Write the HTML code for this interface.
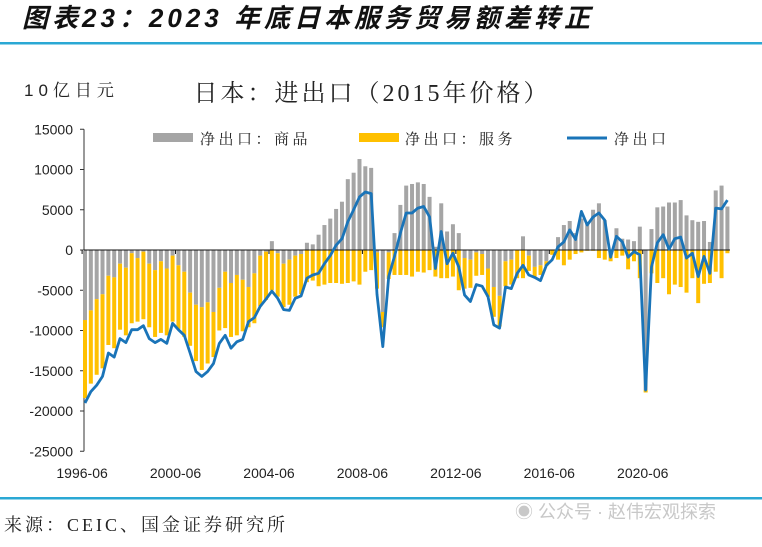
<!DOCTYPE html>
<html><head><meta charset="utf-8">
<style>
html,body{margin:0;padding:0;background:#fff;}
body{width:762px;height:542px;overflow:hidden;position:relative;font-family:"Liberation Sans","Noto Sans CJK SC",sans-serif;}
</style></head>
<body>
<svg width="762" height="542" viewBox="0 0 762 542" xmlns="http://www.w3.org/2000/svg">
<text x="22" y="27" font-size="26" font-weight="bold" font-style="italic" letter-spacing="4" fill="#111" font-family="'Liberation Sans','Noto Sans CJK SC',sans-serif">图表23：2023 年底日本服务贸易额差转正</text>
<rect x="0" y="42" width="762" height="2.5" fill="#2aa8d4"/>
<text x="24" y="96" font-size="17" letter-spacing="5" fill="#222" font-family="'Liberation Sans','Noto Serif CJK SC',serif">10亿日元</text>
<text x="372" y="101" font-size="24" letter-spacing="3" text-anchor="middle" fill="#222" font-family="'Liberation Serif','Noto Serif CJK SC',serif">日本：进出口（2015年价格）</text>
<g id="legend">
<rect x="153" y="133" width="40" height="9" fill="#a5a5a5"/>
<text x="200" y="144" font-size="15" letter-spacing="3.5" fill="#222" font-family="'Liberation Serif','Noto Serif CJK SC',serif">净出口：商品</text>
<rect x="359" y="133" width="40" height="9" fill="#ffc000"/>
<text x="405" y="144" font-size="15" letter-spacing="3.5" fill="#222" font-family="'Liberation Serif','Noto Serif CJK SC',serif">净出口：服务</text>
<line x1="567" y1="138" x2="607" y2="138" stroke="#1a74b8" stroke-width="3"/>
<text x="614" y="144" font-size="15" letter-spacing="3.5" fill="#222" font-family="'Liberation Serif','Noto Serif CJK SC',serif">净出口</text>
</g>
<g id="plot"></g>
<rect x="0" y="497" width="762" height="2.5" fill="#2aa8d4"/>
<text x="4" y="531" font-size="18" letter-spacing="3" fill="#222" font-family="'Liberation Serif','Noto Serif CJK SC',serif">来源：CEIC、国金证券研究所</text>
<text x="515" y="518" font-size="18" fill="#c8c8c8">◉ 公众号 · 赵伟宏观探索</text>
</svg>
<script>
const goods=[-8.7,-7.5,-6.1,-5.5,-3.2,-3.4,-1.7,-2.2,-0.4,-1.0,-0.2,-1.7,-2.5,-1.4,-2.3,-0.7,-1.9,-2.7,-5.3,-6.8,-7.1,-6.5,-7.7,
-4.7,-2.7,-4.1,-3.1,-3.7,-4.6,-2.9,-0.7,-0.2,1.1,-0.4,-1.7,-1.2,-0.7,-0.5,0.9,0.7,1.9,3.1,3.9,5.1,6.0,
8.8,9.6,11.3,10.4,10.2,-0.3,-7.7,-0.3,2.1,5.6,8.0,8.2,8.4,8.2,6.6,0.4,5.8,2.3,3.2,2.1,-1.0,-1.2,
-0.3,-0.5,-2.3,-4.6,-5.7,-1.4,-1.2,0,1.7,-0.7,-2.1,-1.9,-1.4,0,1.6,3.1,3.6,2.1,3.9,3.4,5.0,5.8,
3.7,-0.2,2.7,1.4,1.3,1.1,2.9,-17.4,2.6,5.3,5.4,5.9,5.9,6.2,4.3,3.7,3.5,3.6,1.0,7.4,8.0,5.4];
const services=[-9.7,-9.1,-9.4,-9.2,-8.6,-8.8,-8.2,-8.4,-8.7,-7.9,-8.4,-7.9,-8.3,-8.9,-8.3,-8.2,-7.9,-8.1,-6.6,-7.0,-7.8,-7.6,-5.6,
-5.3,-7.0,-6.7,-7.5,-6.4,-5.0,-6.2,-6.3,-6.0,-5.0,-5.4,-5.4,-5.6,-5.1,-5.0,-4.0,-3.8,-4.5,-4.3,-4.1,-4.1,-4.2,
-4.1,-3.9,-4.3,-2.7,-2.5,-4.5,-1.9,-3.3,-3.1,-3.1,-3.1,-3.3,-2.7,-2.8,-2.5,-3.3,-3.5,-3.5,-3.3,-5.0,-3.8,-3.5,
-2.9,-2.6,-3.5,-3.7,-3.8,-3.1,-3.1,-3.5,-3.5,-1.9,-1.2,-1.2,-0.6,-0.6,-1.2,-1.9,-1.2,-0.5,-0.3,-0.1,-0.1,-1.0,
-1.2,-1.2,-1.0,-0.7,-2.4,-1.4,-3.5,-0.3,-2.9,-4.1,-3.5,-5.5,-4.3,-4.6,-5.3,-3.5,-6.6,-4.2,-4.1,-2.7,-3.5,-0.4];
const net=[-19.0,-17.6,-16.8,-15.7,-12.8,-13.3,-11.0,-11.5,-9.9,-9.9,-9.4,-11.0,-11.5,-11.1,-11.6,-9.1,-9.9,-10.6,-12.8,-15.1,-15.7,-15.1,-14.1,
-11.6,-10.6,-12.2,-11.4,-11.1,-8.9,-8.4,-7.0,-6.1,-5.1,-6.0,-7.4,-7.5,-6.0,-5.7,-3.5,-3.1,-2.9,-1.7,-0.7,0.6,1.4,
3.5,5.0,6.6,7.2,7.0,-5.5,-12.0,-3.3,-0.8,2.1,4.6,4.6,5.2,5.4,4.1,-2.3,2.3,-1.7,-0.4,-2.1,-5.6,-6.4,
-4.3,-4.5,-5.8,-9.3,-9.7,-4.6,-4.8,-2.9,-1.9,-3.1,-3.4,-3.8,-1.9,-1.2,0.4,1.0,2.5,1.3,4.8,3.1,4.1,4.6,
3.7,-0.9,1.7,1.0,-0.9,-0.2,-0.6,-17.4,-2.1,0.9,1.9,0.1,1.4,1.6,-1.0,-0.4,-3.3,-0.8,-2.9,5.2,5.1,6.2];
const yTicks=[15000,10000,5000,0,-5000,-10000,-15000,-20000,-25000];
const xTickLabels=["1996-06","2000-06","2004-06","2008-06","2012-06","2016-06","2020-06"];
const xTickIndex=[0,16,32,48,64,80,96];

const NS="http://www.w3.org/2000/svg";
const plot=document.getElementById('plot');
const X0=85, STEP=5.84, Y0=250, PX=8.05;
function xs(i){return X0+i*STEP;}
function ys(v){return Y0-v*PX;}
function mk(tag,attrs){const e=document.createElementNS(NS,tag);for(const k in attrs)e.setAttribute(k,attrs[k]);plot.appendChild(e);return e;}

const ya=mk('line',{x1:84,y1:ys(15),x2:84,y2:ys(-25),stroke:'#333','stroke-width':1});


yTicks.forEach(t=>{
  const y=ys(t/1000);
  const tk=mk('line',{x1:80,y1:y,x2:84,y2:y,stroke:'#333','stroke-width':1});
  
  
  const tx=mk('text',{x:73,y:y+5,'font-size':14,'text-anchor':'end',fill:'#222'});
  tx.textContent=t;
  
  
});
const bw=4;
goods.forEach((g,i)=>{
  const s=services[i];
  const x=xs(i)-bw/2;
  let gTop,gBot,sTop,sBot;
  if(g>=0){gTop=ys(g);gBot=ys(0);sTop=ys(0);sBot=ys(s);}
  else{gTop=ys(0);gBot=ys(g);sTop=gBot;sBot=ys(g+s);}
  const gb=mk('rect',{x:x,y:gTop,width:bw,height:Math.max(0,gBot-gTop),fill:'#a5a5a5'});
  
  
  const sb=mk('rect',{x:x,y:sTop,width:bw,height:Math.max(0,sBot-sTop),fill:'#ffc000'});
  
  
});
const za=mk('line',{x1:84,y1:Y0,x2:730,y2:Y0,stroke:'#111','stroke-width':1});


xTickIndex.forEach((idx,k)=>{
  const x=xs(idx)-2.9;
  const tk=mk('line',{x1:x,y1:Y0,x2:x,y2:Y0+4,stroke:'#111','stroke-width':1});
  
  
  const tx=mk('text',{x:x,y:478,'font-size':14,'text-anchor':'middle',fill:'#222'});
  tx.textContent=xTickLabels[k];
  
  
});
const pts=net.map((v,i)=>xs(i).toFixed(1)+','+ys(v).toFixed(1)).join(' ');
const pl=mk('polyline',{points:pts,fill:'none',stroke:'#1a74b8','stroke-width':2.8,'stroke-linejoin':'round'});


</script>
</body></html>
